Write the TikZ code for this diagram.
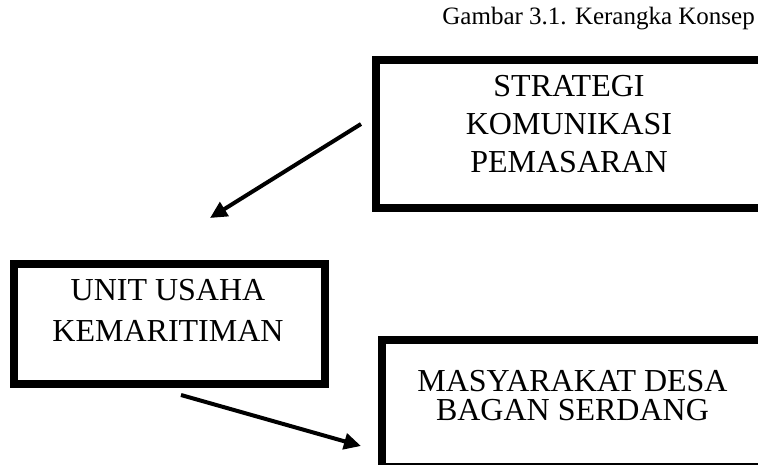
\documentclass[tikz,border=0pt]{standalone}
\usepackage{fontspec}
\setmainfont{Liberation Serif}
\usetikzlibrary{arrows.meta}
\begin{document}
\begin{tikzpicture}[x=1pt,y=-1pt,
  boxshape/.style={draw=black,line width=8pt,rectangle,inner sep=0pt,outer sep=0pt},
  txt/.style={inner sep=0pt,anchor=base,font=\fontsize{32}{38}\selectfont},
  ttl/.style={inner sep=0pt,anchor=base east,font=\fontsize{25}{30}\selectfont},
  arr/.style={line width=4pt,-{Triangle[length=17pt,width=16pt]}}]
\useasboundingbox (0,0) rectangle (758,465);
\clip (0,0) rectangle (758,465);
% title
\node[ttl] (title) at (755,25) {Gambar 3.1. Kerangka Konsep};
% boxes
\node[boxshape,minimum width=414pt,minimum height=148pt] (strat) at (583,134.5) {};
\node[boxshape,minimum width=311pt,minimum height=119.5pt] (unit) at (169,324.25) {};
\node[boxshape,minimum width=408.5pt,minimum height=127pt] (masy) at (585.75,403) {};
% texts
\node[txt] (s1) at (569,97) {STRATEGI};
\node[txt] (s2) at (569,135) {KOMUNIKASI};
\node[txt] (s3) at (569,173) {PEMASARAN};
\node[txt] (u1) at (168,301) {UNIT USAHA};
\node[txt] (u2) at (168,341) {KEMARITIMAN};
\node[txt] (m1) at (572.5,391) {MASYARAKAT DESA};
\node[txt] (m2) at (572.5,420) {BAGAN SERDANG};
% arrows
\coordinate (a1s) at (361,124);
\coordinate (a1e) at (210,218);
\coordinate (a2s) at (181,395);
\coordinate (a2e) at (361,446);
\draw[arr] (a1s) -- (a1e);
\draw[arr] (a2s) -- (a2e);
\end{tikzpicture}
\end{document}
